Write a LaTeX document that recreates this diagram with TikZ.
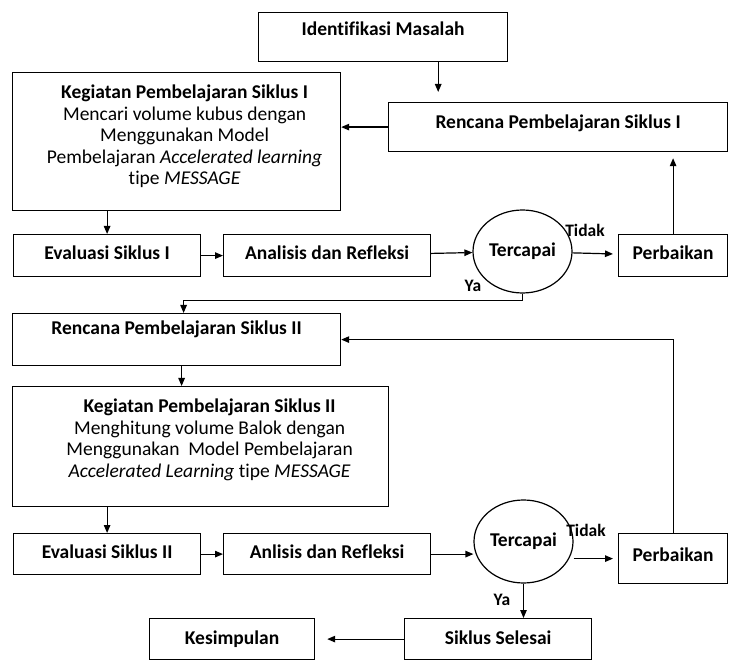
\documentclass[tikz,border=0pt]{standalone}
\usepackage{fontspec}
\setmainfont{Carlito}[Ligatures=NoCommon]
\usetikzlibrary{positioning,shapes.geometric,arrows.meta}

\begin{document}
\begin{tikzpicture}[x=1pt,y=-1pt,
    kotak/.style={draw,line width=1.2pt,inner sep=0pt,anchor=north west,
                  font=\fontsize{19.5}{21.5}\selectfont\bfseries},
    isi/.style={align=center,inner sep=0pt,font=\fontsize{19.5}{21.5}\selectfont},
    bulat/.style={draw,ellipse,line width=1.2pt,inner xsep=-8pt,inner ysep=0pt,
                  font=\fontsize{19.5}{21.5}\selectfont\bfseries},
    ket/.style={inner sep=0pt,font=\fontsize{17.5}{19}\selectfont\bfseries},
    panah/.style={line width=1.2pt,-{Triangle[length=8pt,width=6.5pt]}}]
  \useasboundingbox (0,0) rectangle (729,660);

  % siklus I
  \node[kotak,minimum width=249pt,text height=23pt,text depth=26pt] (ident) at (258,12) {Identifikasi Masalah};
  \node[kotak,minimum width=339pt,text height=26pt,text depth=23pt] (rencana1) at (388,102) {Rencana Pembelajaran Siklus I};
  \node[kotak,minimum width=328pt,minimum height=138pt] (keg1) at (12,72) {};
  \node[isi,below=13pt of keg1.north,xshift=8pt] (keg1isi) {\textbf{Kegiatan Pembelajaran Siklus I}\\
     Mencari volume kubus dengan\\ Menggunakan Model\\
     Pembelajaran \textit{Accelerated learning}\\ tipe \textit{MESSAGE}};
  \node[kotak,minimum width=187pt,text height=25pt,text depth=17pt] (eval1) at (13,234) {Evaluasi Siklus I};
  \node[kotak,minimum width=207pt,text height=25pt,text depth=17pt] (anal1) at (223,234) {Analisis dan Refleksi};
  \node[bulat,minimum width=99pt,minimum height=83pt] (tcp1) at (522.5,251.5) {Tercapai};
  \node[kotak,minimum width=109pt,text height=25pt,text depth=17pt] (perb1) at (618,234) {Perbaikan};
  \node[ket] (tidak1) at (585,230) {Tidak};
  \node[ket] (ya1) at (473,286) {Ya};

  % siklus II
  \node[kotak,minimum width=328pt,text height=21pt,text depth=31pt] (rencana2) at (12,313) {Rencana Pembelajaran Siklus II};
  \node[kotak,minimum width=376pt,minimum height=120pt] (keg2) at (12,386) {};
  \node[isi,below=13pt of keg2.north,xshift=9pt] (keg2isi) {\textbf{Kegiatan Pembelajaran Siklus II}\\
     Menghitung volume Balok dengan\\ Menggunakan\ \ Model Pembelajaran\\
     \textit{Accelerated Learning} tipe \textit{MESSAGE}};
  \node[kotak,minimum width=187pt,text height=25pt,text depth=16pt] (eval2) at (13,533) {Evaluasi Siklus II};
  \node[kotak,minimum width=207pt,text height=25pt,text depth=16pt] (anl2) at (223,533) {Anlisis dan Refleksi};
  \node[bulat,minimum width=99pt,minimum height=83pt] (tcp2) at (523.5,541.5) {Tercapai};
  \node[kotak,minimum width=109pt,text height=28pt,text depth=22pt] (perb2) at (618,533) {Perbaikan};
  \node[kotak,minimum width=187pt,text height=26pt,text depth=15pt] (selesai) at (404,618) {Siklus Selesai};
  \node[kotak,minimum width=165pt,text height=26pt,text depth=15pt] (kesim) at (149,618) {Kesimpulan};
  \node[ket] (tidak2) at (586,530) {Tidak};
  \node[ket] (ya2) at (502,600) {Ya};

  % panah
  \coordinate (turun) at ([xshift=-70pt]ident.south east);
  \coordinate (ya1turun) at ([yshift=-7pt]tcp1.south);
  \draw[panah,shorten >=10pt] (turun) -- (turun |- rencana1.north);
  \draw[panah] (rencana1.west) -- (rencana1.west -| keg1.east);
  \draw[panah] (eval1.north |- keg1.south) -- (eval1.north);
  \draw[panah] (eval1) -- (anal1);
  \draw[panah] (anal1) -- (tcp1);
  \draw[panah,shorten >=5pt] (tcp1) -- (perb1);
  \draw[panah,shorten >=6pt] (perb1.north) -- (perb1.north |- rencana1.south);
  \draw[panah] (tcp1.south) -- (ya1turun) -| ([xshift=7pt]rencana2.north);
  \draw[panah] (perb2.north) |- (rencana2.east);
  \draw[panah] ([xshift=5pt]rencana2.south) -- ([xshift=5pt]rencana2.south |- keg2.north);
  \draw[panah] (eval2.north |- keg2.south) -- (eval2.north);
  \draw[panah] (eval2) -- (anl2);
  \draw[panah] (anl2.east) -- (anl2.east -| tcp2.west);
  \draw[panah,shorten >=5pt] (perb2.west -| tcp2.east) -- (perb2.west);
  \draw[panah] (tcp2.south) -- (tcp2.south |- selesai.north);
  \draw[panah,shorten >=12pt] (selesai.west) -- (selesai.west -| kesim.east);
\end{tikzpicture}
\end{document}
